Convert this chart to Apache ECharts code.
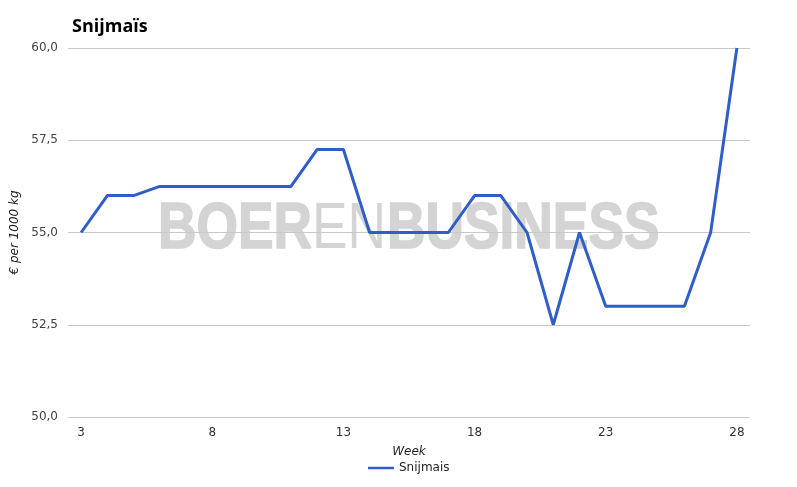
<!DOCTYPE html>
<html><head><meta charset="utf-8">
<script src="https://cdn.jsdelivr.net/npm/echarts@6/dist/echarts.min.js"></script>
<style>html,body{margin:0;padding:0;background:#fff}#c{width:797px;height:487px}</style>
</head><body><div id="c"></div>
<script>
var weeks = ['3','4','5','6','7','8','9','10','11','12','13','14','15','16','17','18','19','20','21','22','23','24','25','26','27','28'];
var snijmais = [55, 56, 56, 56.25, 56.25, 56.25, 56.25, 56.25, 56.25, 57.25, 57.25, 55, 55, 55, 55, 56, 56, 55, 52.5, 55, 53, 53, 53, 53, 55, 60];
var yTicks = [50, 52.5, 55, 57.5, 60];

var chart = echarts.init(document.getElementById('c'));
var font = 'DejaVu Sans';
var wmColor = '#d4d4d4';
function wm(txt, x, bold) {
  return {
    type: 'text', x: x, y: 198, scaleX: 0.82, z: -10, silent: true,
    style: {
      text: txt, x: 0, y: 0, verticalAlign: 'top', align: 'left',
      font: (bold ? 'bold ' : '') + '65px "Liberation Sans"',
      fill: wmColor, stroke: bold ? wmColor : null, lineWidth: bold ? 1.6 : 0
    }
  };
}
chart.setOption({
  animation: false,
  backgroundColor: '#fff',
  title: {
    text: 'Snijmaïs', left: 67, top: 13,
    textStyle: { fontFamily: 'Open Sans', fontWeight: 'bold', fontSize: 18, color: '#000' }
  },
  graphic: [wm('BOER', 158, true), wm('EN', 312, false), wm('BUSINESS', 387, true)],
  legend: {
    top: 457, left: 363, itemWidth: 26, itemHeight: 10, itemGap: 6,
    textStyle: { fontFamily: font, fontSize: 12, color: '#222' },
    data: [{ name: 'Snijmais', icon: 'path://M0,4 L26,4 L26,6.5 L0,6.5 Z' }]
  },
  grid: { left: 68, right: 47, top: 48, bottom: 70 },
  xAxis: {
    type: 'category', data: weeks, boundaryGap: true,
    name: 'Week', nameLocation: 'middle', nameGap: 29,
    nameTextStyle: { fontFamily: font, fontStyle: 'italic', fontSize: 12, color: '#222' },
    axisLine: { show: false }, axisTick: { show: false },
    axisLabel: { interval: 4, fontFamily: font, fontSize: 12, color: '#333', margin: 10 }
  },
  yAxis: {
    type: 'value', min: 50, max: 60, interval: 2.5,
    name: '€ per 1000 kg', nameLocation: 'middle', nameGap: 42, nameRotate: 90,
    nameTextStyle: { fontFamily: font, fontStyle: 'italic', fontSize: 12, color: '#222' },
    axisLine: { show: false }, axisTick: { show: false },
    splitLine: { lineStyle: { color: '#c8c8c8', width: 1 } },
    axisLabel: { fontFamily: font, fontSize: 12, color: '#444', margin: 10,
      formatter: function (v) { return v.toFixed(1).replace('.', ','); } }
  },
  series: [{
    name: 'Snijmais', type: 'line', data: snijmais, symbol: 'none',
    lineStyle: { color: '#2f5dcc', width: 3 }, itemStyle: { color: '#2f5dcc' }
  }]
});
</script></body></html>
